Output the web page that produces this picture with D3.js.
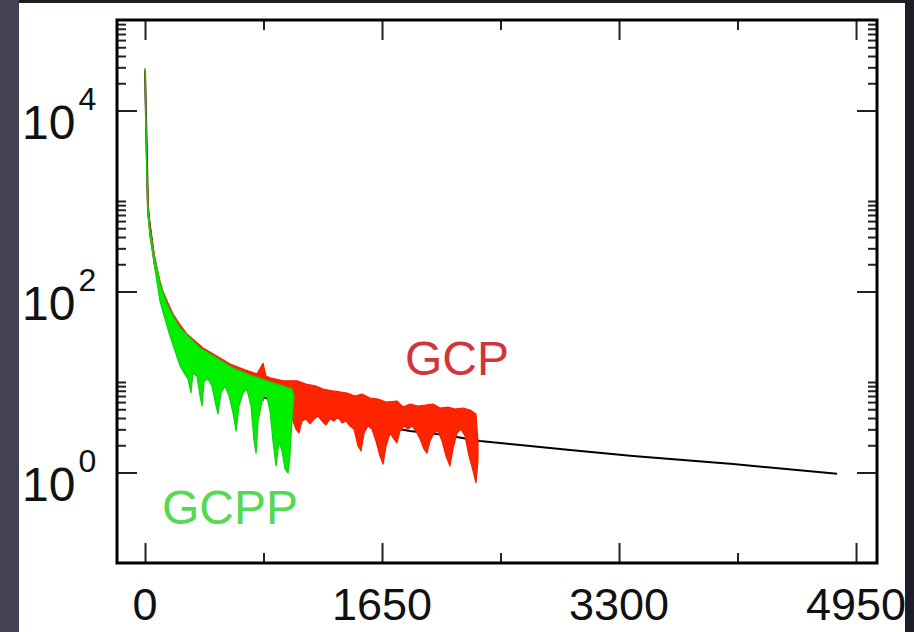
<!DOCTYPE html>
<html>
<head>
<meta charset="utf-8">
<script src="https://cdn.jsdelivr.net/npm/d3@7"></script>
<style>
  html, body { margin: 0; padding: 0; background: #1e1e26; }
  svg { display: block; }
  text { font-family: "Liberation Sans", Arial, Helvetica, sans-serif; }
</style>
</head>
<body>
<svg id="chart" width="914" height="632"></svg>
<script>
// tick values / labels
const xTicks = [0, 1650, 3300, 4950];
const xMinor = [825, 2475, 4125];
const yTicks = [1, 100, 10000];
const yExp = ["0", "2", "4"];
const yMinor = [2, 3, 4, 5, 6, 7, 8, 9, 10,
  200, 300, 400, 500, 600, 700, 800, 900, 1000,
  20000, 30000, 40000, 50000, 60000, 70000, 80000, 90000];

// smooth black curve
const blackCurve = [[0, 27300], [21, 776], [70, 191], [139, 69.2], [244, 32.2], [383, 17.1],
  [592, 10.3], [801, 7.0], [1009, 5.43], [1288, 4.21], [1566, 3.44], [1845, 2.87],
  [2089, 2.60], [2332, 2.23], [2541, 2.06], [2959, 1.77], [3397, 1.52], [4094, 1.24], [4818, 0.97]];

// GCP (red): upper edge and lower edge of the noisy trace
const gcpUpper = [[0, 28800], [7, 7650], [14, 2145], [21, 1000], [35, 529], [49, 380], [63, 266],
  [84, 182], [104, 131], [125, 101], [160, 74.6], [195, 56.4], [244, 42.7], [292, 33.9],
  [348, 28.4], [404, 23.8], [487, 19.9], [592, 15.8], [696, 13.6], [780, 12.3], [822, 16.1],
  [842, 11.6], [870, 11.1], [961, 10.3], [1058, 10.3], [1121, 9.5], [1190, 9.03], [1239, 8.37],
  [1309, 7.96], [1406, 7.56], [1462, 7.0], [1511, 7.37], [1566, 6.66], [1622, 6.49], [1678, 6.01],
  [1754, 6.17], [1796, 5.29], [1845, 5.71], [1901, 5.43], [1956, 5.57], [2005, 5.71], [2054, 5.16],
  [2110, 5.29], [2158, 5.03], [2214, 5.16], [2263, 4.91], [2304, 4.43], [2318, 2.23]];
const gcpLower = [[0, 27300], [7, 5930], [14, 1664], [21, 737], [35, 410], [49, 295], [63, 207],
  [84, 145], [104, 107], [125, 82.6], [160, 60.9], [195, 46.0], [244, 34.8], [292, 28.4],
  [348, 23.2], [404, 19.4], [487, 16.2], [592, 13.2], [696, 11.4], [780, 10.3], [822, 6.17],
  [842, 9.75], [870, 9.03], [961, 7.96], [1009, 6.17], [1030, 3.71], [1051, 3.02], [1072, 2.73],
  [1093, 3.71], [1121, 3.90], [1149, 3.44], [1177, 3.90], [1204, 4.21], [1232, 3.71], [1260, 3.35],
  [1288, 3.90], [1316, 3.71], [1344, 4.10], [1372, 3.52], [1399, 3.71], [1427, 3.26], [1455, 3.02],
  [1483, 1.96], [1504, 1.73], [1525, 2.73], [1552, 3.26], [1580, 3.02], [1608, 2.23], [1636, 1.52],
  [1657, 1.24], [1678, 1.96], [1706, 2.73], [1734, 2.34], [1754, 2.12], [1775, 2.87], [1803, 3.26],
  [1831, 3.02], [1859, 3.26], [1887, 2.87], [1915, 2.34], [1942, 1.82], [1963, 1.64], [1984, 2.23],
  [2012, 2.73], [2040, 2.87], [2068, 2.23], [2096, 1.52], [2123, 1.18], [2144, 1.82], [2172, 2.73],
  [2200, 3.02], [2228, 2.53], [2256, 1.52], [2284, 1.04], [2304, 0.77], [2318, 1.34]];

// GCPP (green): upper edge and lower edge
const gcppUpper = [[0, 28800], [7, 7650], [14, 2145], [21, 881], [35, 491], [56, 280], [84, 177],
  [104, 124], [153, 72.8], [195, 53.6], [244, 39.5], [313, 30.6], [383, 23.8], [487, 18.9],
  [613, 14.3], [731, 11.9], [849, 10.3], [940, 9.27], [1023, 8.37], [1037, 7.0]];
const gcppLower = [[0, 27300], [7, 5930], [14, 1664], [21, 683], [35, 410], [56, 247], [77, 148],
  [104, 78.5], [139, 49.7], [174, 32.2], [209, 22.0], [244, 15.0], [272, 12.6], [299, 10.8],
  [320, 7.56], [334, 12.6], [362, 11.6], [383, 7.0], [397, 5.43], [411, 10.3], [439, 10.8],
  [466, 9.03], [487, 6.17], [508, 4.43], [529, 7.56], [557, 9.03], [585, 7.0], [613, 4.54],
  [634, 2.87], [654, 5.43], [682, 7.56], [710, 8.37], [738, 5.43], [759, 2.23], [773, 1.64],
  [787, 3.71], [815, 6.17], [842, 7.56], [870, 4.78], [891, 2.23], [912, 1.18], [933, 2.23],
  [954, 1.73], [975, 1.09], [996, 0.99], [1009, 1.52], [1023, 3.71], [1037, 7.0]];

const svg = d3.select("#chart");
const W = 914, H = 632;
const mLeft = 117, mRight = 877, mTop = 20, mBottom = 563;

// slide background: dark frame with white panel
svg.append("rect").attr("width", W).attr("height", H).attr("fill", "#1e1e26");
svg.append("rect").attr("x", 0).attr("y", 0).attr("width", 19).attr("height", H).attr("fill", "#424254");
svg.append("rect").attr("x", 19).attr("y", 3).attr("width", 886).attr("height", H - 3).attr("fill", "#fff");

const x = d3.scaleLinear().domain([-195, 5096]).range([mLeft, mRight]);
const y = d3.scaleLog().domain([0.1, 1e5]).range([mBottom, mTop]);

svg.append("clipPath").attr("id", "clip")
  .append("rect").attr("x", mLeft).attr("y", mTop).attr("width", mRight - mLeft).attr("height", mBottom - mTop);

const plot = svg.append("g").attr("clip-path", "url(#clip)");
const line = d3.line().x(d => x(d[0])).y(d => y(d[1]));

// band = upper edge forward + lower edge back
function band(upper, lower) {
  return line(upper.concat(lower.slice().reverse())) + "Z";
}

plot.append("path")
  .attr("d", line(blackCurve))
  .attr("fill", "none").attr("stroke", "#000").attr("stroke-width", 2);

plot.append("path")
  .attr("d", band(gcpUpper, gcpLower))
  .attr("fill", "#ff2400").attr("stroke", "#f02000").attr("stroke-width", 1.2)
  .attr("stroke-linejoin", "round");

plot.append("path")
  .attr("d", band(gcppUpper, gcppLower))
  .attr("fill", "#00f000").attr("stroke", "#10d010").attr("stroke-width", 1.2)
  .attr("stroke-linejoin", "round");

// ticks (inward), no domain lines
function ticks(axis, g) {
  g.call(axis);
  g.select(".domain").remove();
  g.selectAll("text").remove();
  g.selectAll("line").attr("stroke", "#222").attr("stroke-width", 2);
}
ticks(d3.axisBottom(x).tickValues(xTicks).tickSize(-20),
  svg.append("g").attr("transform", `translate(0,${mBottom})`));
ticks(d3.axisBottom(x).tickValues(xMinor).tickSize(-10),
  svg.append("g").attr("transform", `translate(0,${mBottom})`));
ticks(d3.axisTop(x).tickValues(xTicks).tickSize(-20),
  svg.append("g").attr("transform", `translate(0,${mTop})`));
ticks(d3.axisTop(x).tickValues(xMinor).tickSize(-10),
  svg.append("g").attr("transform", `translate(0,${mTop})`));
ticks(d3.axisLeft(y).tickValues(yTicks).tickSize(-20),
  svg.append("g").attr("transform", `translate(${mLeft},0)`));
ticks(d3.axisLeft(y).tickValues(yMinor).tickSize(-9),
  svg.append("g").attr("transform", `translate(${mLeft},0)`));
ticks(d3.axisRight(y).tickValues(yTicks).tickSize(-20),
  svg.append("g").attr("transform", `translate(${mRight},0)`));
ticks(d3.axisRight(y).tickValues(yMinor).tickSize(-9),
  svg.append("g").attr("transform", `translate(${mRight},0)`));

// frame
svg.append("rect")
  .attr("x", mLeft).attr("y", mTop).attr("width", mRight - mLeft).attr("height", mBottom - mTop)
  .attr("fill", "none").attr("stroke", "#000").attr("stroke-width", 3);

// x labels
svg.append("g").selectAll("text").data(xTicks).join("text")
  .attr("x", d => x(d)).attr("y", 620)
  .attr("text-anchor", "middle")
  .attr("font-size", 45).attr("fill", "#111")
  .text(d => d);

// y labels 10^n
const yl = svg.append("g").selectAll("text").data(yTicks).join("text")
  .attr("x", 22).attr("y", d => y(d) + 28)
  .attr("font-size", 48).attr("fill", "#111");
yl.append("tspan").text("10");
yl.append("tspan").attr("dx", 3).attr("dy", -29).attr("font-size", 32).text((d, i) => yExp[i]);

// series labels
svg.append("text").attr("x", 405).attr("y", 375)
  .attr("font-size", 48).attr("fill", "#d2353a").text("GCP");
svg.append("text").attr("x", 162).attr("y", 524)
  .attr("font-size", 48).attr("fill", "#55d955").text("GCPP");
</script>
</body>
</html>
